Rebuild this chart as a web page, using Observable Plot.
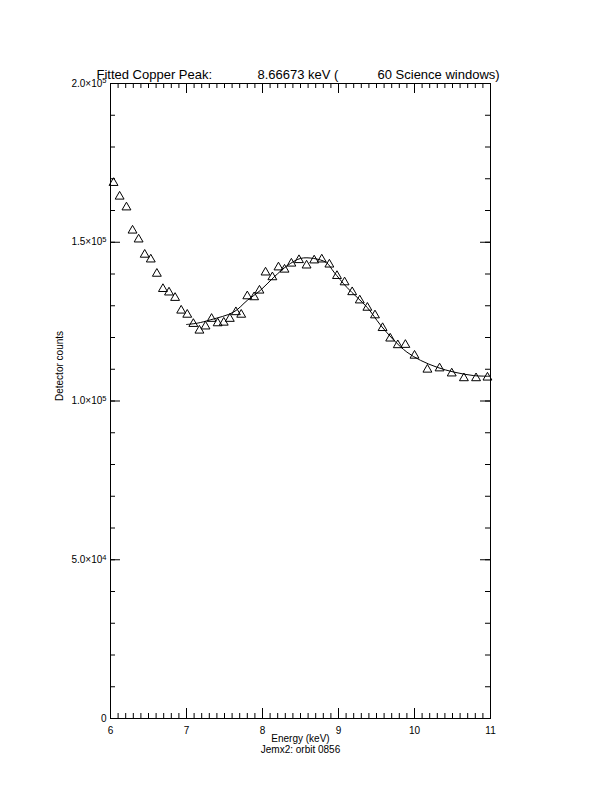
<!DOCTYPE html>
<html><head><meta charset="utf-8">
<script src="https://cdn.jsdelivr.net/npm/d3@7"></script>
<script src="https://cdn.jsdelivr.net/npm/@observablehq/plot@0.6"></script>
<style>body{margin:0;background:#fff} svg{display:block}</style>
</head><body><div id="chart"></div>
<script>
const energy = [6.04,6.12,6.21,6.29,6.37,6.45,6.53,6.61,6.69,6.77,6.85,6.93,7.01,7.09,7.17,7.25,7.33,7.41,7.49,7.57,7.65,7.72,7.80,7.89,7.96,8.04,8.13,8.21,8.29,8.38,8.48,8.58,8.68,8.78,8.88,8.98,9.08,9.18,9.28,9.38,9.48,9.58,9.68,9.78,9.88,10.00,10.17,10.33,10.49,10.65,10.81,10.96];
const counts = [168700,164400,161000,153700,150900,146100,144600,140100,135300,134200,132500,128500,127200,124300,122200,123500,125900,124500,124700,125900,128000,127200,133000,132700,134800,140500,139000,142100,141400,143300,144400,142700,144300,144600,143000,139400,137400,134300,131700,129400,127000,123000,119700,117600,117700,114300,109900,110300,108700,107200,107200,107400];
const fitEnergy = [7.00,7.14,7.32,7.62,7.80,7.97,8.15,8.33,8.50,8.67,8.84,8.94,9.11,9.38,9.55,9.73,9.90,10.08,10.30,10.52,10.78,10.98];
const fitCounts = [124100,124500,125600,128000,131700,134800,139000,142700,144900,144900,143600,140600,135800,129400,124000,119100,115400,112800,110600,109100,108000,107800];
const xTicks = [6,7,8,9,10,11];
const xTickLabels = ["6","7","8","9","10","11"];
const yTicks = [0,50000,100000,150000,200000];
const yTickMantissa = ["0","5.0×10","1.0×10","1.5×10","2.0×10"];
const yTickExponent = ["","4","5","5","5"];
const xMinor = d3.range(60,111).map(d => d/10);
const yMinor = d3.range(0,21).map(d => d*10000);
const titleParts = ["Fitted Copper Peak:", "8.66673 keV (", "60 Science windows)"];
const xLabel = "Energy (keV)";
const subLabel = "Jemx2: orbit 0856";
const yLabel = "Detector counts";

const points = energy.map((e,i) => ({e, c: counts[i]}));
const fit = fitEnergy.map((e,i) => ({e, c: fitCounts[i]}));

const font = "Liberation Sans, Arial, sans-serif";
const chart = Plot.plot({
  width: 612, height: 792,
  marginLeft: 110, marginRight: 122, marginTop: 83, marginBottom: 74,
  style: {fontFamily: font, background: "#fff", color: "#000"},
  x: {domain: [6, 11], axis: null},
  y: {domain: [0, 200000], axis: null},
  marks: [
    Plot.frame({stroke: "#000", strokeWidth: 1}),
    Plot.tickX(xMinor, {x: d => d, insetTop: 630, stroke: "#000"}),
    Plot.tickX(xTicks, {x: d => d, insetTop: 625, stroke: "#000"}),
    Plot.tickX(xMinor, {x: d => d, insetBottom: 630, stroke: "#000"}),
    Plot.tickX(xTicks, {x: d => d, insetBottom: 625, stroke: "#000"}),
    Plot.tickY(yMinor, {y: d => d, insetRight: 375, stroke: "#000"}),
    Plot.tickY(yTicks, {y: d => d, insetRight: 370, stroke: "#000"}),
    Plot.tickY(yMinor, {y: d => d, insetLeft: 375, stroke: "#000"}),
    Plot.tickY(yTicks, {y: d => d, insetLeft: 370, stroke: "#000"}),
    Plot.text(xTicks, {x: d => d, text: (d,i) => xTickLabels[i], frameAnchor: "bottom", dy: 15, lineAnchor: "bottom", fontSize: 10, fill: "#000"}),
    Plot.text(yTicks, {y: d => d, text: (d,i) => yTickMantissa[i], frameAnchor: "left", dx: -4, textAnchor: "end", fontSize: 10, fill: "#000", className: "ylab"}),
    Plot.text([xLabel], {text: d => d, frameAnchor: "bottom", dy: 23, lineAnchor: "bottom", fontSize: 10, fill: "#000"}),
    Plot.text([subLabel], {text: d => d, frameAnchor: "bottom", dy: 34, lineAnchor: "bottom", fontSize: 10, fill: "#000"}),
    Plot.text([yLabel], {text: d => d, frameAnchor: "left", dx: -51, rotate: -90, fontSize: 10, fill: "#000"}),
    Plot.text([titleParts[0]], {text: d => d, frameAnchor: "top-left", dx: -14, dy: -5, lineAnchor: "bottom", textAnchor: "start", fontSize: 13, fill: "#000"}),
    Plot.text([titleParts[1]], {text: d => d, frameAnchor: "top-left", dx: 147, dy: -5, lineAnchor: "bottom", textAnchor: "start", fontSize: 13, fill: "#000"}),
    Plot.text([titleParts[2]], {text: d => d, frameAnchor: "top-left", dx: 267, dy: -5, lineAnchor: "bottom", textAnchor: "start", fontSize: 13, fill: "#000"}),
    Plot.line(fit, {x: "e", y: "c", curve: "catmull-rom", stroke: "#000", strokeWidth: 1}),
    Plot.dot(points, {x: "e", y: "c", symbol: "triangle", r: 3.3, stroke: "#000", fill: "none", strokeWidth: 1})
  ]
});
// add superscript exponents to y tick labels
d3.select(chart).selectAll("g.ylab text").each(function(d, i) {
  const t = d3.select(this);
  const idx = yTickMantissa.indexOf(t.text());
  if (idx >= 0 && yTickExponent[idx]) {
    t.append("tspan").attr("dy", "-0.45em").attr("font-size", 7.5).text(yTickExponent[idx]);
  }
});
document.getElementById("chart").appendChild(chart);
</script>
</body></html>
